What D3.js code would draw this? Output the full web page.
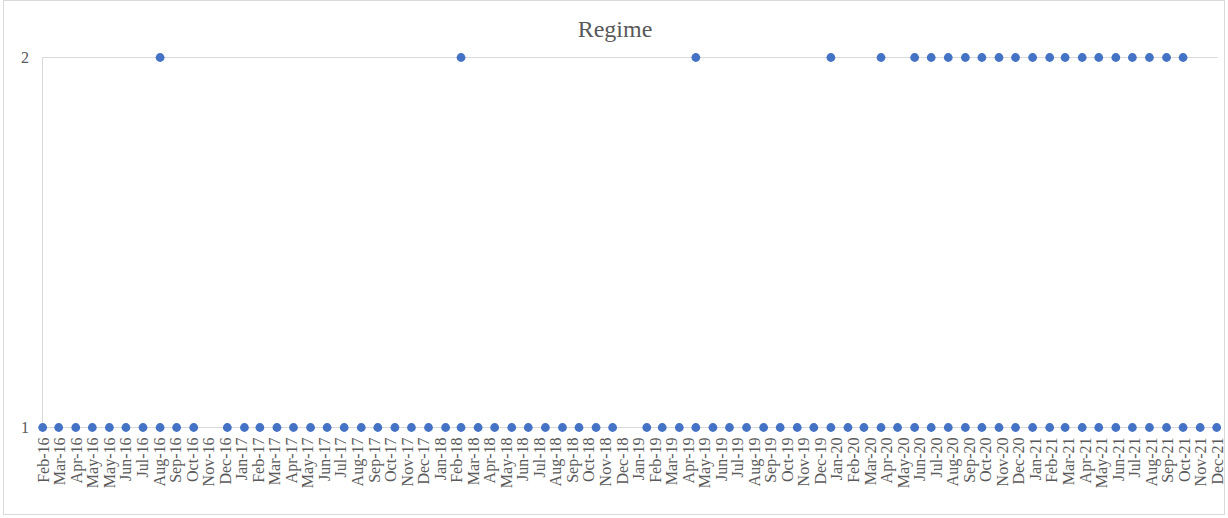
<!DOCTYPE html>
<html>
<head>
<meta charset="utf-8">
<script src="https://cdn.jsdelivr.net/npm/d3@7"></script>
<style>
  html, body { margin: 0; padding: 0; background: #ffffff; }
  svg { display: block; }
  text { font-family: "Liberation Serif", "Times New Roman", serif; fill: #595959; }
</style>
</head>
<body>
<svg id="chart" width="1228" height="518"></svg>
<script>
// Chart title
const chartTitle = "Regime";

// Months in which the series sits in regime 1
const regimeOneMonths = [
  "2016-02","2016-03","2016-04","2016-05","2016-06","2016-07","2016-08","2016-09","2016-10","2016-11",
  "2017-01","2017-02","2017-03","2017-04","2017-05","2017-06","2017-07","2017-08","2017-09","2017-10","2017-11","2017-12",
  "2018-01","2018-02","2018-03","2018-04","2018-05","2018-06","2018-07","2018-08","2018-09","2018-10","2018-11","2018-12",
  "2019-02","2019-03","2019-04","2019-05","2019-06","2019-07","2019-08","2019-09","2019-10","2019-11","2019-12",
  "2020-01","2020-02","2020-03","2020-04","2020-05","2020-06","2020-07","2020-08","2020-09","2020-10","2020-11","2020-12",
  "2021-01","2021-02","2021-03","2021-04","2021-05","2021-06","2021-07","2021-08","2021-09","2021-10","2021-11","2021-12"
];
const regimeOneValues = [
  1,1,1,1,1,1,1,1,1,1,
  1,1,1,1,1,1,1,1,1,1,1,1,
  1,1,1,1,1,1,1,1,1,1,1,1,
  1,1,1,1,1,1,1,1,1,1,1,
  1,1,1,1,1,1,1,1,1,1,1,1,
  1,1,1,1,1,1,1,1,1,1,1,1
];

// Months in which the series sits in regime 2
const regimeTwoMonths = [
  "2016-09","2018-03","2019-05","2020-01","2020-04",
  "2020-06","2020-07","2020-08","2020-09","2020-10","2020-11","2020-12",
  "2021-01","2021-02","2021-03","2021-04","2021-05","2021-06","2021-07","2021-08","2021-09","2021-10"
];
const regimeTwoValues = [2,2,2,2,2, 2,2,2,2,2,2,2, 2,2,2,2,2,2,2,2,2,2];

// Date-axis labels (one every 30 days from the first date)
const tickLabels = [
  "Feb-16","Mar-16","Apr-16","May-16","May-16","Jun-16","Jul-16","Aug-16","Sep-16","Oct-16","Nov-16","Dec-16",
  "Jan-17","Feb-17","Mar-17","Apr-17","May-17","Jun-17","Jul-17","Aug-17","Sep-17","Oct-17","Nov-17","Dec-17",
  "Jan-18","Feb-18","Mar-18","Apr-18","May-18","Jun-18","Jul-18","Aug-18","Sep-18","Oct-18","Nov-18","Dec-18",
  "Jan-19","Feb-19","Mar-19","Apr-19","May-19","Jun-19","Jul-19","Aug-19","Sep-19","Oct-19","Nov-19","Dec-19",
  "Jan-20","Feb-20","Mar-20","Apr-20","May-20","Jun-20","Jul-20","Aug-20","Sep-20","Oct-20","Nov-20","Dec-20",
  "Jan-21","Feb-21","Mar-21","Apr-21","May-21","Jun-21","Jul-21","Aug-21","Sep-21","Oct-21","Nov-21","Dec-21"
];
const axisStart = "2016-02-01";
const axisStepDays = 30;
const yTicks = [1, 2];

const parseMonth = d3.utcParse("%Y-%m");
const parseDay = d3.utcParse("%Y-%m-%d");

const startDate = parseDay(axisStart);
const tickDates = tickLabels.map((_, i) => d3.utcDay.offset(startDate, i * axisStepDays));
const endDate = tickDates[tickDates.length - 1];

const points = [
  ...regimeOneMonths.map((m, i) => ({ date: parseMonth(m), value: regimeOneValues[i] })),
  ...regimeTwoMonths.map((m, i) => ({ date: parseMonth(m), value: regimeTwoValues[i] }))
];

const svg = d3.select("#chart");
const W = 1228, H = 518;
const plot = { left: 42.7, right: 1216.7, top: 57.5, bottom: 427.5 };

const x = d3.scaleUtc().domain([startDate, endDate]).range([plot.left, plot.right]);
const y = d3.scaleLinear().domain([1, 2]).range([plot.bottom, plot.top]);

// Chart area border
svg.append("rect")
  .attr("x", 3.5).attr("y", 0.5)
  .attr("width", W - 7).attr("height", H - 4)
  .attr("fill", "#ffffff")
  .attr("stroke", "#d9d9d9").attr("stroke-width", 1);

// Title
svg.append("text")
  .attr("x", 615).attr("y", 37)
  .attr("text-anchor", "middle")
  .attr("font-size", 24)
  .text(chartTitle);

// Horizontal gridlines
svg.append("g")
  .selectAll("line")
  .data(yTicks.filter(t => t !== 1))
  .join("line")
  .attr("x1", Math.round(plot.left) - 0.5).attr("x2", plot.right + 1)
  .attr("y1", d => y(d)).attr("y2", d => y(d))
  .attr("stroke", "#d9d9d9").attr("stroke-width", 1);

// Vertical axis line
svg.append("line")
  .attr("x1", Math.round(plot.left) - 0.5).attr("x2", Math.round(plot.left) - 0.5)
  .attr("y1", plot.top).attr("y2", plot.bottom)
  .attr("stroke", "#d9d9d9").attr("stroke-width", 1);

// Y axis labels
svg.append("g")
  .selectAll("text")
  .data(yTicks)
  .join("text")
  .attr("x", 29)
  .attr("y", d => y(d))
  .attr("dy", "0.35em")
  .attr("text-anchor", "end")
  .attr("font-size", 16)
  .text(d => d);

// X axis (date axis, rotated labels)
const xAxis = d3.axisBottom(x)
  .tickValues(tickDates)
  .tickFormat((d, i) => tickLabels[i])
  .tickSize(0)
  .tickPadding(0);

const gx = svg.append("g")
  .attr("transform", `translate(0,${plot.bottom})`)
  .call(xAxis);
gx.select(".domain")
  .attr("d", `M${Math.round(plot.left) - 0.5},0H${plot.right + 1}`)
  .attr("stroke", "#d9d9d9");
gx.selectAll(".tick text")
  .attr("font-family", "Liberation Serif, Times New Roman, serif")
  .attr("font-size", 16)
  .attr("fill", "#595959")
  .attr("text-anchor", "end")
  .attr("transform", "translate(0,10) rotate(-90)")
  .attr("x", 0).attr("y", 0)
  .attr("dy", "0.35em");

// Points
svg.append("g")
  .selectAll("circle")
  .data(points)
  .join("circle")
  .attr("cx", d => x(d.date))
  .attr("cy", d => y(d.value))
  .attr("r", 4.4)
  .attr("fill", "#4472c4");
</script>
</body>
</html>
